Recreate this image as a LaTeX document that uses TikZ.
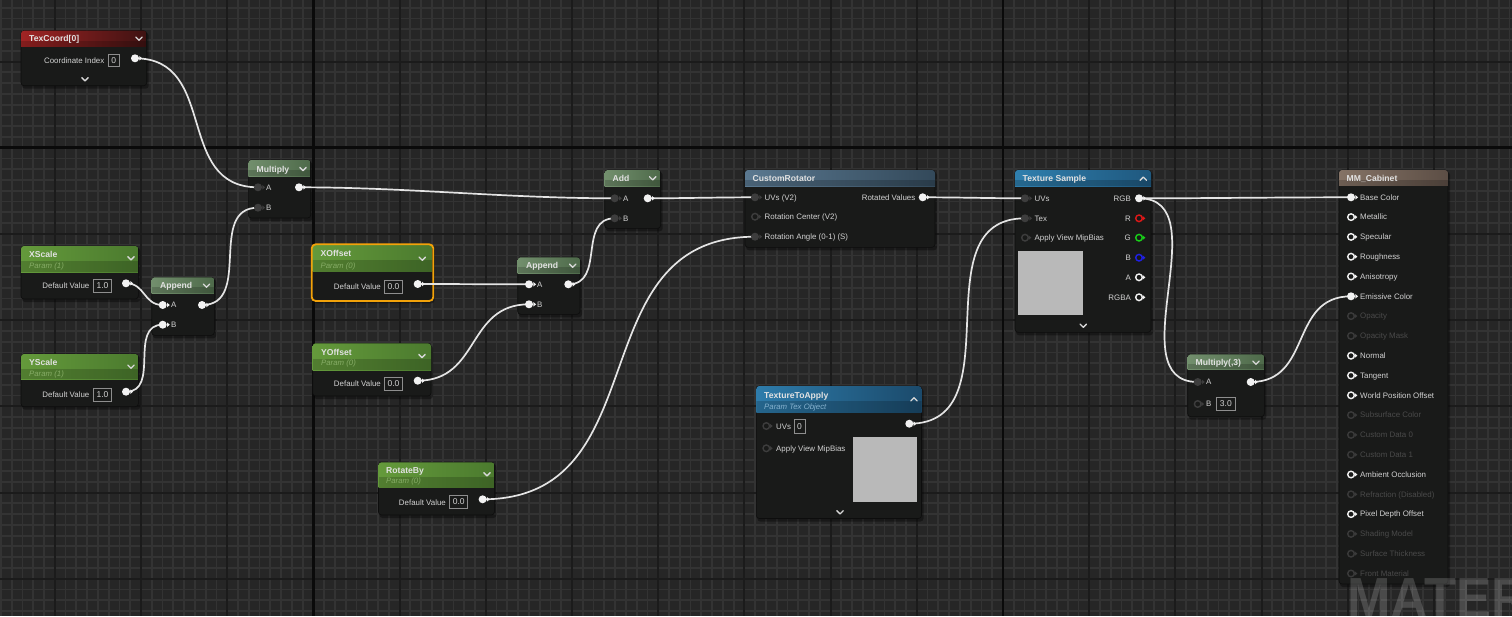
\documentclass[tikz,border=0pt]{standalone}
\usepackage{fontspec}
\setmainfont{Liberation Sans}
\usetikzlibrary{calc}
\pgfdeclarelayer{bg}
\pgfdeclarelayer{wirel}
\pgfdeclarelayer{pinl}
\pgfsetlayers{bg,main,wirel,pinl}
\definecolor{gridbg}{HTML}{262626}
\definecolor{gridfine}{HTML}{333333}
\definecolor{gridmid}{HTML}{1B1B1B}
\definecolor{gridmaj}{HTML}{0A0A0A}
\definecolor{nodebody}{HTML}{191A19}
\definecolor{nodeedge}{HTML}{0D0D0D}
\definecolor{labtxt}{HTML}{D2D2D2}
\definecolor{ttltxt}{HTML}{E2E2E2}
\definecolor{dimtxt}{HTML}{4A4A4A}
\definecolor{valedge}{HTML}{8E8E8E}
\definecolor{chevcol}{HTML}{D8D8D8}
\definecolor{wirecol}{HTML}{E4E4E4}
\definecolor{wfill}{HTML}{F2F2F2}
\definecolor{pdark}{HTML}{3D3D3D}
\definecolor{pdim}{HTML}{3A3A3A}
\definecolor{pred}{HTML}{E01818}
\definecolor{pgreen}{HTML}{18D018}
\definecolor{pblue}{HTML}{2020E6}
\definecolor{prmgreen}{HTML}{86AC66}
\definecolor{prmblue}{HTML}{86B2CF}
\definecolor{prevcol}{HTML}{B9B9B9}
\definecolor{selcol}{HTML}{F2A20A}
\definecolor{gA}{HTML}{649A3B}
\definecolor{gB}{HTML}{3C6021}
\definecolor{gC}{HTML}{4B7A2E}
\definecolor{mA}{HTML}{728F6D}
\definecolor{mB}{HTML}{4E6A4A}
\definecolor{rA}{HTML}{A12424}
\definecolor{rB}{HTML}{7D1919}
\definecolor{rC}{HTML}{3E1212}
\definecolor{sA}{HTML}{5A7890}
\definecolor{sB}{HTML}{33495A}
\definecolor{bA}{HTML}{2F7FAE}
\definecolor{bB}{HTML}{1F587E}
\definecolor{cA}{HTML}{2E7CAB}
\definecolor{cB}{HTML}{1F5A80}
\definecolor{cC}{HTML}{1B4A6B}
\definecolor{nA}{HTML}{857366}
\definecolor{nB}{HTML}{5C4E45}
\tikzset{
 ubody/.style={rectangle, rounded corners=3pt, fill=nodebody, draw=nodeedge, line width=.6pt, inner sep=0pt, outer sep=0pt},
 sockf/.style={circle, minimum size=8pt, inner sep=0pt, outer sep=0pt},
 sockh/.style={circle, minimum size=6.6pt, inner sep=0pt, outer sep=0pt, line width=1.4pt, fill=nodebody},
 lab/.style={inner sep=0pt, text=labtxt, font=\fontsize{7.9}{9}\selectfont},
 ttl/.style={inner sep=0pt, text=ttltxt, font=\fontsize{8.6}{11}\selectfont\bfseries, anchor=base west},
 prm/.style={inner sep=0pt, font=\fontsize{7.8}{9}\selectfont\itshape, anchor=base west},
 valb/.style={draw=valedge, line width=.8pt, inner sep=0pt, text=labtxt, font=\fontsize{8.5}{9}\selectfont},
 chev/.style={draw=chevcol, line width=1.3pt, line cap=round, line join=round},
 wire/.style={draw=wirecol, line width=1.7pt},
 prevbox/.style={rectangle, fill=prevcol, inner sep=0pt, outer sep=0pt, anchor=north west},
 selframe/.style={draw=selcol, line width=1.8pt, rounded corners=4pt},
 hgreen/.style={left color=gA, middle color=gB, right color=gC},
 hmath/.style={left color=mA, right color=mB},
 hred/.style={left color=rA, middle color=rB, right color=rC},
 hsteel/.style={left color=sA, right color=sB},
 hblue/.style={left color=bA, right color=bB},
 hblueb/.style={left color=cA, middle color=cB, right color=cC},
 hbrown/.style={left color=nA, right color=nB},
 wmark/.style={anchor=base west, inner sep=0pt, text=white, text opacity=.17, font=\fontsize{58}{60}\selectfont\bfseries}
}
\newcommand\trix[2]{\fill[#1] ([xshift=.3pt,yshift=2.3pt]#2.east) -- ++(2.8pt,-2.3pt) -- ++(-2.8pt,-2.3pt) -- cycle;}
\newcommand\sockF[4]{\begin{pgfonlayer}{pinl}\node[sockf, fill=#1] (#2) at (#3,#4) {};\trix{#1}{#2}\end{pgfonlayer}}
\newcommand\sockH[4]{\begin{pgfonlayer}{pinl}\node[sockh, draw=#1] (#2) at (#3,#4) {};\trix{#1}{#2}\end{pgfonlayer}}
\newcommand\labx[4]{\node[lab, anchor=base west] (#1) at (#2,#3+2.8) {#4};}
\newcommand\labrx[4]{\node[lab, anchor=base east] (#1) at (#2,#3+2.8) {#4};}
\newcommand\ttlx[4]{\node[ttl] (#1) at (#2,#3+3.2) {#4};}
\newcommand\prmx[5]{\node[prm, text=#5] (#1) at (#2,#3+2.8) {#4};}
\newcommand\chevd[2]{\draw[chev] (#1-3.2,#2-1.6) -- (#1,#2+1.6) -- (#1+3.2,#2-1.6);}
\newcommand\chevu[2]{\draw[chev] (#1-3.2,#2+1.6) -- (#1,#2-1.6) -- (#1+3.2,#2+1.6);}
\newcommand\valbx[6]{\node[valb, minimum width={(#4-#2)*1pt}, minimum height={(#5-#3)*1pt}] (#1) at ({(#2+#4)/2},{(#3+#5)/2}) {#6};}
\newcommand\prevx[5]{\node[prevbox, minimum width={(#4-#2)*1pt}, minimum height={(#5-#3)*1pt}] (#1) at (#2,#3) {};}
\newcommand\unode[7]{%
 \fill[black, fill opacity=.35, rounded corners=3pt] (#2+1,#3+2) rectangle (#4+2,#5+3);
 \node[ubody, anchor=north west, minimum width={(#4-#2)*1pt}, minimum height={(#5-#3)*1pt}] (#1) at (#2,#3) {};
 \begin{scope}\clip[rounded corners=3pt] (#2,#3) rectangle (#4,#5);
 \shade[#7] (#2,#3) rectangle (#4,#6);
 \fill[black, fill opacity=.18] (#2,{(#3+#6)/2+2}) rectangle (#4,#6);
 \end{scope}}
\newcommand\wirex[2]{\begin{pgfonlayer}{wirel}\draw[wire] let \p1=(#1.center), \p2=(#2.center), \n1={(abs(\x2-\x1)+abs(\y2-\y1))/3} in (\p1) .. controls ($(\p1)+(\n1,0pt)$) and ($(\p2)-(\n1,0pt)$) .. (\p2);\end{pgfonlayer}}
\newcommand\mmrow[3]{% index, kind(F/H/D), text
 \pgfmathsetmacro\mmy{197.3+19.8*#1}
 \ifx#2F\sockF{wfill}{mm#1}{1351}{\mmy}\labx{mml#1}{1360}{\mmy}{#3}\fi
 \ifx#2H\sockH{wfill}{mm#1}{1351}{\mmy}\labx{mml#1}{1360}{\mmy}{#3}\fi
 \ifx#2D\sockH{pdim}{mm#1}{1351}{\mmy}\node[lab, text=dimtxt, anchor=base west] (mml#1) at (1360,\mmy+2.8) {#3};\fi}
\begin{document}
\begin{tikzpicture}[x=1pt,y=-1pt]
\useasboundingbox (0,0) rectangle (1512,616);
\begin{pgfonlayer}{bg}
\fill[gridbg] (0,0) rectangle (1512,616);
\foreach \k in {-94,...,48} \draw[gridfine, line width=1.8pt] ({1003+\k*10.775},0) -- ++(0,616);
\foreach \k in {-14,...,44} \draw[gridfine, line width=1.8pt] (0,{147.7+\k*10.775}) -- ++(1512,0);
\foreach \k in {-12,...,6} \draw[gridmid, line width=2pt] ({1003+\k*86.2},0) -- ++(0,616);
\foreach \k in {-2,...,6} \draw[gridmid, line width=2pt] (0,{147.7+\k*86.2}) -- ++(1512,0);
\draw[gridmaj, line width=2.6pt] (313.4,0) -- ++(0,616);
\draw[gridmaj, line width=2.6pt] (1003,0) -- ++(0,616);
\draw[gridmaj, line width=2.6pt] (0,147.7) -- ++(1512,0);
\end{pgfonlayer}
% TexCoord
\unode{tc}{21}{30.7}{146.7}{85.7}{46.7}{hred}
\ttlx{tct}{29}{38.7}{TexCoord[0]}
\chevd{139}{38.7}
\labrx{tcl}{104.5}{60.3}{Coordinate Index}
\valbx{tcv}{108.3}{54}{119.3}{66.5}{0}
\sockF{wfill}{tc-out}{135}{58.3}
\chevd{85}{79.3}
% Multiply
\unode{mul}{248.3}{160}{310.7}{218}{176}{hmath}
\ttlx{mult}{256.5}{169}{Multiply}
\chevd{303}{169}
\sockF{pdark}{mul-a}{258}{187.3}\labx{mula}{266}{187.3}{A}
\sockF{wfill}{mul-out}{299}{187.3}
\sockF{pdark}{mul-b}{258}{207.7}\labx{mulb}{266}{207.7}{B}
% XScale
\unode{xs}{21}{246}{138.3}{299}{272}{hgreen}
\ttlx{xst}{29}{254}{XScale}
\prmx{xsp}{29}{265.3}{Param (1)}{prmgreen}
\chevd{131}{258.3}
\labrx{xsl}{89.5}{286}{Default Value}
\valbx{xsv}{93.3}{279.5}{111.7}{292.5}{1.0}
\sockF{wfill}{xs-out}{126}{283.3}
% YScale
\unode{ys}{21}{354}{138.3}{406.7}{379.3}{hgreen}
\ttlx{yst}{29}{362}{YScale}
\prmx{ysp}{29}{373.3}{Param (1)}{prmgreen}
\chevd{131}{366.7}
\labrx{ysl}{89.5}{394.3}{Default Value}
\valbx{ysv}{93.3}{388}{111.7}{401}{1.0}
\sockF{wfill}{ys-out}{126}{391.7}
% Append 1
\unode{ap1}{151.7}{277.3}{214.3}{335.3}{293.3}{hmath}
\ttlx{ap1t}{160}{285.7}{Append}
\chevd{206.5}{285.7}
\sockF{wfill}{ap1-a}{162.7}{305}\labx{ap1la}{171}{305}{A}
\sockF{wfill}{ap1-out}{202}{305}
\sockF{wfill}{ap1-b}{162.7}{324.7}\labx{ap1lb}{171}{324.7}{B}
% XOffset (selected)
\unode{xo}{312.5}{245}{432.5}{300.3}{271.7}{hgreen}
\draw[selframe] (311.7,244.3) rectangle (433.3,301);
\ttlx{xot}{320.5}{253.7}{XOffset}
\prmx{xop}{320.5}{265.3}{Param (0)}{prmgreen}
\chevd{422.3}{258.7}
\labrx{xol}{381}{286.3}{Default Value}
\valbx{xov}{384.3}{280}{402.7}{293}{0.0}
\sockF{wfill}{xo-out}{417.7}{284}
% YOffset
\unode{yo}{312.7}{343.3}{431}{396}{370}{hgreen}
\ttlx{yot}{321}{352}{YOffset}
\prmx{yop}{321}{363}{Param (0)}{prmgreen}
\chevd{422}{356}
\labrx{yol}{381}{383.3}{Default Value}
\valbx{yov}{384.3}{377}{402.7}{390}{0.0}
\sockF{wfill}{yo-out}{417.7}{380.7}
% Append 2
\unode{ap2}{517.7}{257.3}{580}{314.3}{273.3}{hmath}
\ttlx{ap2t}{526}{265.7}{Append}
\chevd{572.7}{265.7}
\sockF{wfill}{ap2-a}{529}{284.3}\labx{ap2la}{537}{284.3}{A}
\sockF{wfill}{ap2-out}{568.3}{284.3}
\sockF{wfill}{ap2-b}{529}{304.3}\labx{ap2lb}{537}{304.3}{B}
% Add
\unode{add}{604.7}{170}{660.7}{228.3}{186}{hmath}
\ttlx{addt}{612.5}{178.3}{Add}
\chevd{652.7}{178.3}
\sockF{pdark}{add-a}{614.7}{198.3}\labx{addla}{623}{198.3}{A}
\sockF{wfill}{add-out}{647.7}{198.3}
\sockF{pdark}{add-b}{614.7}{218.3}\labx{addlb}{623}{218.3}{B}
% CustomRotator
\unode{cr}{745}{170}{935}{247.3}{186}{hsteel}
\ttlx{crt}{752.5}{178.7}{CustomRotator}
\sockF{pdark}{cr-uv}{755}{197.3}\labx{crl1}{764.5}{197.3}{UVs (V2)}
\labrx{crlo}{915.5}{197.3}{Rotated Values}
\sockF{wfill}{cr-out}{922.7}{197.3}
\sockH{pdark}{cr-rc}{755}{216.7}\labx{crl2}{764.5}{216.7}{Rotation Center (V2)}
\sockF{pdark}{cr-ang}{755}{236.7}\labx{crl3}{764.5}{236.7}{Rotation Angle (0-1) (S)}
% Texture Sample
\unode{ts}{1015}{170}{1151}{332.3}{186}{hblue}
\ttlx{tst}{1022.5}{178.7}{Texture Sample}
\chevu{1143.3}{178.7}
\sockF{pdark}{ts-uv}{1025}{198.3}\labx{tsl1}{1034.5}{198.3}{UVs}
\sockF{pdark}{ts-tex}{1025}{218.3}\labx{tsl2}{1034.5}{218.3}{Tex}
\sockH{pdark}{ts-mip}{1025}{237.7}\labx{tsl3}{1034.5}{237.7}{Apply View MipBias}
\labrx{tso1}{1131}{198.3}{RGB}\sockF{wfill}{ts-rgb}{1139}{198.3}
\labrx{tso2}{1131}{218.3}{R}\sockH{pred}{ts-r}{1139}{218.3}
\labrx{tso3}{1131}{237.7}{G}\sockH{pgreen}{ts-g}{1139}{237.7}
\labrx{tso4}{1131}{257.7}{B}\sockH{pblue}{ts-b}{1139}{257.7}
\labrx{tso5}{1131}{277.3}{A}\sockH{wfill}{ts-a}{1139}{277.3}
\labrx{tso6}{1131}{297.3}{RGBA}\sockH{wfill}{ts-rgba}{1139}{297.3}
\prevx{tsprev}{1017.7}{251}{1083}{314.7}
\chevd{1083.3}{325.7}
% TextureToApply
\unode{tta}{756.3}{386}{921.5}{518.5}{412.7}{hblueb}
\ttlx{ttat}{764}{395}{TextureToApply}
\prmx{ttap}{764}{406.3}{Param Tex Object}{prmblue}
\chevu{914}{399.3}
\sockH{pdark}{tta-uv}{766.3}{426}\labx{ttal1}{776}{426.3}{UVs}
\valbx{ttav}{794}{419.5}{805}{433}{0}
\sockF{wfill}{tta-out}{909.3}{423.7}
\sockH{pdark}{tta-mip}{766.3}{448.3}\labx{ttal2}{776}{448.3}{Apply View MipBias}
\prevx{ttaprev}{852.6}{437}{917.4}{501.7}
\chevd{840}{512.3}
% RotateBy
\unode{rb}{378.5}{462.3}{494.4}{515}{487.7}{hgreen}
\ttlx{rbt}{386}{470}{RotateBy}
\prmx{rbp}{386}{481}{Param (0)}{prmgreen}
\chevd{487}{474.3}
\labrx{rbl}{446}{502.3}{Default Value}
\valbx{rbv}{449.6}{495.5}{467.8}{508.5}{0.0}
\sockF{wfill}{rb-out}{482.6}{499.3}
% Multiply(,3)
\unode{m3}{1187.7}{354.3}{1264.3}{416.7}{369}{hmath}
\ttlx{m3t}{1195.5}{362.7}{Multiply(,3)}
\chevd{1256}{362.7}
\sockF{pdark}{m3-a}{1197.7}{382}\labx{m3la}{1206}{382}{A}
\sockF{wfill}{m3-out}{1250.7}{382}
\sockH{pdark}{m3-b}{1197.7}{404}\labx{m3lb}{1206}{404}{B}
\valbx{m3v}{1216.7}{397}{1235}{410.5}{3.0}
% MM_Cabinet
\unode{mm}{1339}{170}{1448}{584}{185.7}{hbrown}
\ttlx{mmt}{1346.5}{178.7}{MM\_Cabinet}
\mmrow{0}{F}{Base Color}
\mmrow{1}{H}{Metallic}
\mmrow{2}{H}{Specular}
\mmrow{3}{H}{Roughness}
\mmrow{4}{H}{Anisotropy}
\mmrow{5}{F}{Emissive Color}
\mmrow{6}{D}{Opacity}
\mmrow{7}{D}{Opacity Mask}
\mmrow{8}{H}{Normal}
\mmrow{9}{H}{Tangent}
\mmrow{10}{H}{World Position Offset}
\mmrow{11}{D}{Subsurface Color}
\mmrow{12}{D}{Custom Data 0}
\mmrow{13}{D}{Custom Data 1}
\mmrow{14}{H}{Ambient Occlusion}
\mmrow{15}{D}{Refraction (Disabled)}
\mmrow{16}{H}{Pixel Depth Offset}
\mmrow{17}{D}{Shading Model}
\mmrow{18}{D}{Surface Thickness}
\mmrow{19}{D}{Front Material}
% wires
\wirex{tc-out}{mul-a}
\wirex{xs-out}{ap1-a}
\wirex{ys-out}{ap1-b}
\wirex{ap1-out}{mul-b}
\wirex{mul-out}{add-a}
\wirex{xo-out}{ap2-a}
\wirex{yo-out}{ap2-b}
\wirex{ap2-out}{add-b}
\wirex{add-out}{cr-uv}
\wirex{rb-out}{cr-ang}
\wirex{cr-out}{ts-uv}
\wirex{tta-out}{ts-tex}
\wirex{ts-rgb}{mm0}
\wirex{ts-rgb}{m3-a}
\wirex{m3-out}{mm5}
% watermark
\begin{pgfonlayer}{pinl}
\node[wmark] (wm) at (1347,618.5) {\scalebox{0.9}[1]{MATERIAL}};
\end{pgfonlayer}
\end{tikzpicture}
\end{document}
